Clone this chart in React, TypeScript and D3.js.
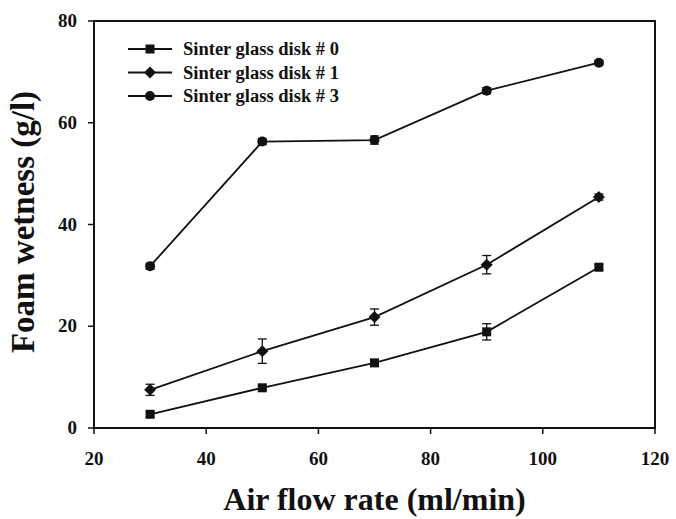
import React from 'react';
import * as d3 from 'd3';

const width = 676;
const height = 519;
const margin = { top: 21, right: 21, bottom: 91, left: 94 };

const airFlow = [30, 50, 70, 90, 110];
const disk0 = [2.7, 7.9, 12.8, 18.9, 31.6];
const disk0Err = [0.5, 0.4, 0.5, 1.6, 0.5];
const disk1 = [7.5, 15.1, 21.8, 32.1, 45.4];
const disk1Err = [1.1, 2.4, 1.6, 1.8, 0.6];
const disk3 = [31.8, 56.3, 56.6, 66.3, 71.8];
const disk3Err = [0.6, 0.6, 0.8, 0.6, 0.4];
const xTicks = [20, 40, 60, 80, 100, 120];
const yTicks = [0, 20, 40, 60, 80];
const seriesNames = ['Sinter glass disk # 0', 'Sinter glass disk # 1', 'Sinter glass disk # 3'];

const font = '"Liberation Serif", "Times New Roman", serif';
const ink = '#111';

type Shape = 'square' | 'diamond' | 'circle';

function Marker({ x, y, shape }: { x: number; y: number; shape: Shape }) {
  if (shape === 'square') return <rect x={x - 4.5} y={y - 4.5} width={9} height={9} fill={ink} />;
  if (shape === 'diamond')
    return <path d={`M${x},${y - 6}L${x + 6},${y}L${x},${y + 6}L${x - 6},${y}Z`} fill={ink} />;
  return <circle cx={x} cy={y} r={5} fill={ink} />;
}

export default function App() {
  const plotW = width - margin.left - margin.right;
  const plotH = height - margin.top - margin.bottom;

  const x = d3.scaleLinear().domain([20, 120]).range([0, plotW]);
  const y = d3.scaleLinear().domain([0, 80]).range([plotH, 0]);

  const line = d3
    .line<number>()
    .x((_, i) => x(airFlow[i]))
    .y((d) => y(d));

  const series: { values: number[]; err: number[]; shape: Shape }[] = [
    { values: disk0, err: disk0Err, shape: 'square' },
    { values: disk1, err: disk1Err, shape: 'diamond' },
    { values: disk3, err: disk3Err, shape: 'circle' },
  ];

  return (
    <svg width={width} height={height} style={{ position: 'absolute', left: 0, top: 0, background: '#fff' }}>
      <g transform={`translate(${margin.left},${margin.top})`}>
        <rect x={0} y={0} width={plotW} height={plotH} fill="none" stroke={ink} strokeWidth={2} />

        {xTicks.map((t) => (
          <g key={'x' + t}>
            <line x1={x(t)} x2={x(t)} y1={plotH} y2={plotH + 6} stroke={ink} strokeWidth={1.5} />
            <text x={x(t)} y={plotH + 37} textAnchor="middle" fontFamily={font} fontWeight="bold" fontSize={19} fill={ink}>
              {t}
            </text>
          </g>
        ))}
        {yTicks.map((t) => (
          <g key={'y' + t}>
            <line x1={-6} x2={0} y1={y(t)} y2={y(t)} stroke={ink} strokeWidth={1.5} />
            <text x={-17} y={y(t) + 6} textAnchor="end" fontFamily={font} fontWeight="bold" fontSize={19} fill={ink}>
              {t}
            </text>
          </g>
        ))}

        {series.map((s, si) => (
          <g key={'s' + si}>
            <path d={line(s.values) || ''} fill="none" stroke={ink} strokeWidth={1.8} />
            {s.values.map((v, i) => {
              const cx = x(airFlow[i]);
              const top = y(v + s.err[i]);
              const bot = y(v - s.err[i]);
              return (
                <g key={i}>
                  <line x1={cx} x2={cx} y1={top} y2={bot} stroke={ink} strokeWidth={1.3} />
                  <line x1={cx - 4.5} x2={cx + 4.5} y1={top} y2={top} stroke={ink} strokeWidth={1.3} />
                  <line x1={cx - 4.5} x2={cx + 4.5} y1={bot} y2={bot} stroke={ink} strokeWidth={1.3} />
                  <Marker x={cx} y={y(v)} shape={s.shape} />
                </g>
              );
            })}
          </g>
        ))}

        {seriesNames.map((name, i) => {
          const ly = 28 + i * 23.5;
          return (
            <g key={name}>
              <line x1={34} x2={78} y1={ly} y2={ly} stroke={ink} strokeWidth={1.8} />
              <Marker x={56} y={ly} shape={series[i].shape} />
              <text x={89} y={ly + 6} fontFamily={font} fontWeight="bold" fontSize={18.5} fill={ink}>
                {name}
              </text>
            </g>
          );
        })}
      </g>

      <text
        x={margin.left + plotW / 2}
        y={510}
        textAnchor="middle"
        fontFamily={font}
        fontWeight="bold"
        fontSize={32}
        fill={ink}
      >
        Air flow rate (ml/min)
      </text>
      <text
        transform={`translate(34,222) rotate(-90)`}
        textAnchor="middle"
        fontFamily={font}
        fontWeight="bold"
        fontSize={33}
        fill={ink}
      >
        Foam wetness (g/l)
      </text>
    </svg>
  );
}
